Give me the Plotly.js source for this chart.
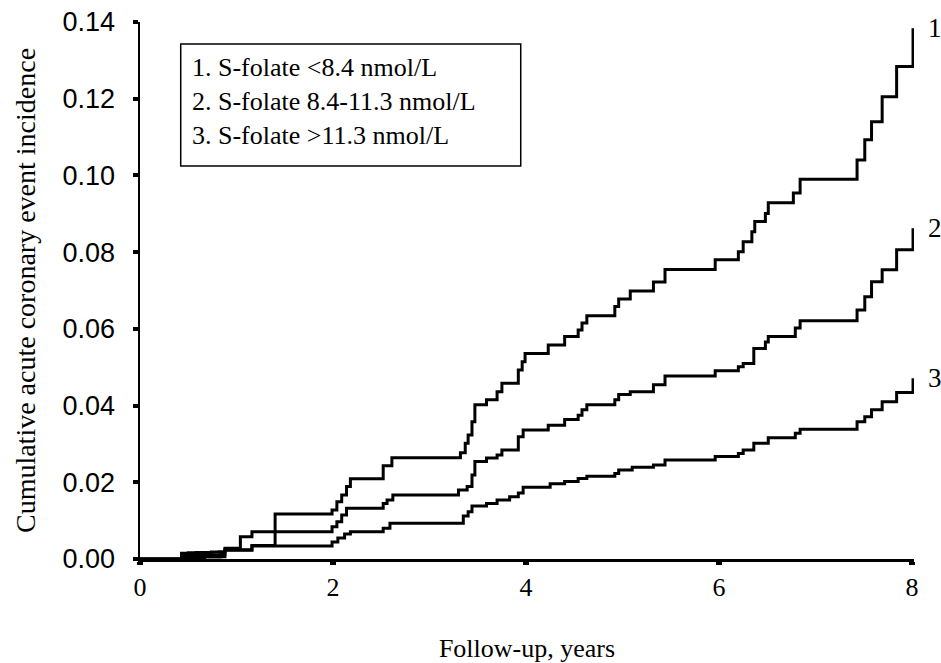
<!DOCTYPE html>
<html>
<head>
<meta charset="utf-8">
<script src="https://cdn.plot.ly/plotly-3.0.1.min.js"></script>
<style>html,body{margin:0;padding:0;background:#fff;}#chart{width:941px;height:663px;}</style>
</head>
<body>
<div id="chart"></div>
<script>
// Follow-up time (years) at each step and cumulative incidence after the step
var years1 = [0, 0.43, 0.50, 0.58, 0.66, 0.74, 0.82, 0.88, 1.16, 1.40, 1.99, 2.04, 2.09, 2.14, 2.18, 2.52, 2.61, 3.32, 3.37, 3.40, 3.44, 3.47, 3.59, 3.70, 3.75, 3.92, 3.96, 3.99, 4.23, 4.40, 4.54, 4.58, 4.63, 4.92, 4.96, 5.08, 5.32, 5.44, 5.96, 6.20, 6.25, 6.34, 6.37, 6.48, 6.51, 6.77, 6.84, 7.43, 7.51, 7.58, 7.69, 7.84, 8.01];
var incidence1 = [0, 0.0015, 0.0016, 0.0017, 0.0017, 0.0018, 0.0019, 0.0024, 0.0035, 0.0117, 0.0128, 0.0149, 0.0167, 0.0189, 0.0209, 0.0243, 0.0264, 0.0277, 0.0302, 0.0323, 0.0358, 0.0402, 0.0415, 0.0436, 0.0458, 0.0493, 0.0514, 0.0536, 0.0558, 0.058, 0.0597, 0.0615, 0.0634, 0.0658, 0.0678, 0.0699, 0.0722, 0.0755, 0.078, 0.0801, 0.0827, 0.0853, 0.088, 0.0901, 0.0929, 0.0954, 0.099, 0.104, 0.1093, 0.114, 0.1205, 0.1284, 0.1384];

var years2 = [0, 0.44, 0.52, 0.60, 0.68, 0.76, 0.84, 0.88, 1.04, 1.16, 1.99, 2.04, 2.09, 2.14, 2.52, 2.56, 2.62, 3.30, 3.39, 3.44, 3.47, 3.59, 3.70, 3.75, 3.92, 3.97, 4.23, 4.40, 4.54, 4.58, 4.63, 4.92, 4.96, 5.08, 5.32, 5.44, 5.96, 6.20, 6.25, 6.36, 6.48, 6.51, 6.79, 6.84, 7.43, 7.51, 7.58, 7.69, 7.84, 8.01];
var incidence2 = [0, 0.0009, 0.001, 0.001, 0.0011, 0.0011, 0.0012, 0.0028, 0.0058, 0.0071, 0.0084, 0.0097, 0.0115, 0.0132, 0.0145, 0.0154, 0.0167, 0.018, 0.0189, 0.0219, 0.0254, 0.0263, 0.0271, 0.0284, 0.0319, 0.0336, 0.0349, 0.0364, 0.0375, 0.0389, 0.0402, 0.0415, 0.0429, 0.0436, 0.0454, 0.0477, 0.0491, 0.0501, 0.051, 0.0549, 0.0566, 0.058, 0.0602, 0.0621, 0.0649, 0.0684, 0.0723, 0.0754, 0.0806, 0.0862];

var years3 = [0, 0.43, 0.51, 0.59, 0.67, 0.75, 0.83, 0.88, 1.16, 1.99, 2.05, 2.12, 2.18, 2.52, 2.59, 3.35, 3.40, 3.44, 3.59, 3.70, 3.83, 3.92, 3.97, 4.25, 4.40, 4.54, 4.63, 4.92, 4.96, 5.10, 5.32, 5.44, 5.96, 6.20, 6.25, 6.36, 6.51, 6.79, 6.84, 7.43, 7.51, 7.58, 7.69, 7.84, 8.01];
var incidence3 = [0, 0.0003, 0.0004, 0.0004, 0.0005, 0.0005, 0.0006, 0.0023, 0.0034, 0.0044, 0.0055, 0.0065, 0.0071, 0.008, 0.0093, 0.0112, 0.0123, 0.0138, 0.0145, 0.0154, 0.0162, 0.0172, 0.0187, 0.0196, 0.0202, 0.021, 0.0216, 0.0223, 0.0232, 0.0239, 0.0245, 0.0258, 0.0267, 0.0275, 0.0284, 0.0302, 0.0316, 0.0328, 0.0338, 0.0358, 0.0371, 0.0389, 0.041, 0.0434, 0.0471];

var groupNames = ["1. S-folate <8.4 nmol/L", "2. S-folate 8.4-11.3 nmol/L", "3. S-folate >11.3 nmol/L"];
var curveLabels = ["1", "2", "3"];
var xTicks = [0, 2, 4, 6, 8];
var yTicks = [0, 0.02, 0.04, 0.06, 0.08, 0.10, 0.12, 0.14];

var serif = "Liberation Serif, Times New Roman, serif";
var sans = "Liberation Sans, Arial, sans-serif";

var xs = [years1, years2, years3];
var ys = [incidence1, incidence2, incidence3];
var traces = xs.map(function (x, i) {
  return {
    x: x, y: ys[i], type: "scatter", mode: "lines", name: groupNames[i],
    line: {shape: "hv", color: "#000", width: 3}, showlegend: false, hoverinfo: "x+y"
  };
});

var annotations = [];
// curve end labels
traces.forEach(function (t, i) {
  annotations.push({
    xref: "paper", yref: "y", x: 1.0155, y: t.y[t.y.length - 1],
    xanchor: "left", yanchor: "middle", text: curveLabels[i], showarrow: false,
    font: {family: serif, size: 27, color: "#000"}
  });
});
// legend box text (one multi-line block)
annotations.push({
  xref: "paper", yref: "paper", x: 0.064, y: 0.852,
  xanchor: "left", yanchor: "middle", align: "left",
  text: groupNames.join("<br>"), showarrow: false,
  font: {family: serif, size: 26, color: "#000"}
});

var layout = {
  width: 941, height: 663,
  margin: {l: 140, r: 27, t: 22, b: 104, pad: 0},
  paper_bgcolor: "#fff", plot_bgcolor: "#fff",
  showlegend: false,
  xaxis: {
    range: [0, 8.02], tickvals: xTicks, ticktext: xTicks.map(String),
    showline: true, linecolor: "#000", linewidth: 2.5, mirror: false,
    ticks: "outside", ticklen: 3, tickwidth: 6, tickcolor: "#000",
    showgrid: false, zeroline: false, ticklabelstandoff: 0,
    tickfont: {family: serif, size: 26, color: "#000"},
    title: {text: "Follow-up, years", font: {family: serif, size: 26, color: "#000"}, standoff: 48}
  },
  yaxis: {
    range: [0, 0.14], tickvals: yTicks, tickformat: ".2f",
    showline: true, linecolor: "#000", linewidth: 2.5,
    ticks: "outside", ticklen: 5, tickwidth: 4, tickcolor: "#000",
    showgrid: false, zeroline: false, ticklabelstandoff: 12,
    tickfont: {family: sans, size: 27, color: "#000"},
    title: {text: "Cumulative acute coronary event incidence", font: {family: serif, size: 28, color: "#000"}, standoff: 19}
  },
  shapes: [{
    type: "rect", xref: "paper", yref: "paper",
    x0: 0.0526, x1: 0.4919, y0: 0.7318, y1: 0.959,
    line: {color: "#000", width: 1.5}, fillcolor: "rgba(0,0,0,0)"
  }],
  annotations: annotations
};

Plotly.newPlot("chart", traces, layout, {displayModeBar: false, staticPlot: true});
</script>
</body>
</html>
